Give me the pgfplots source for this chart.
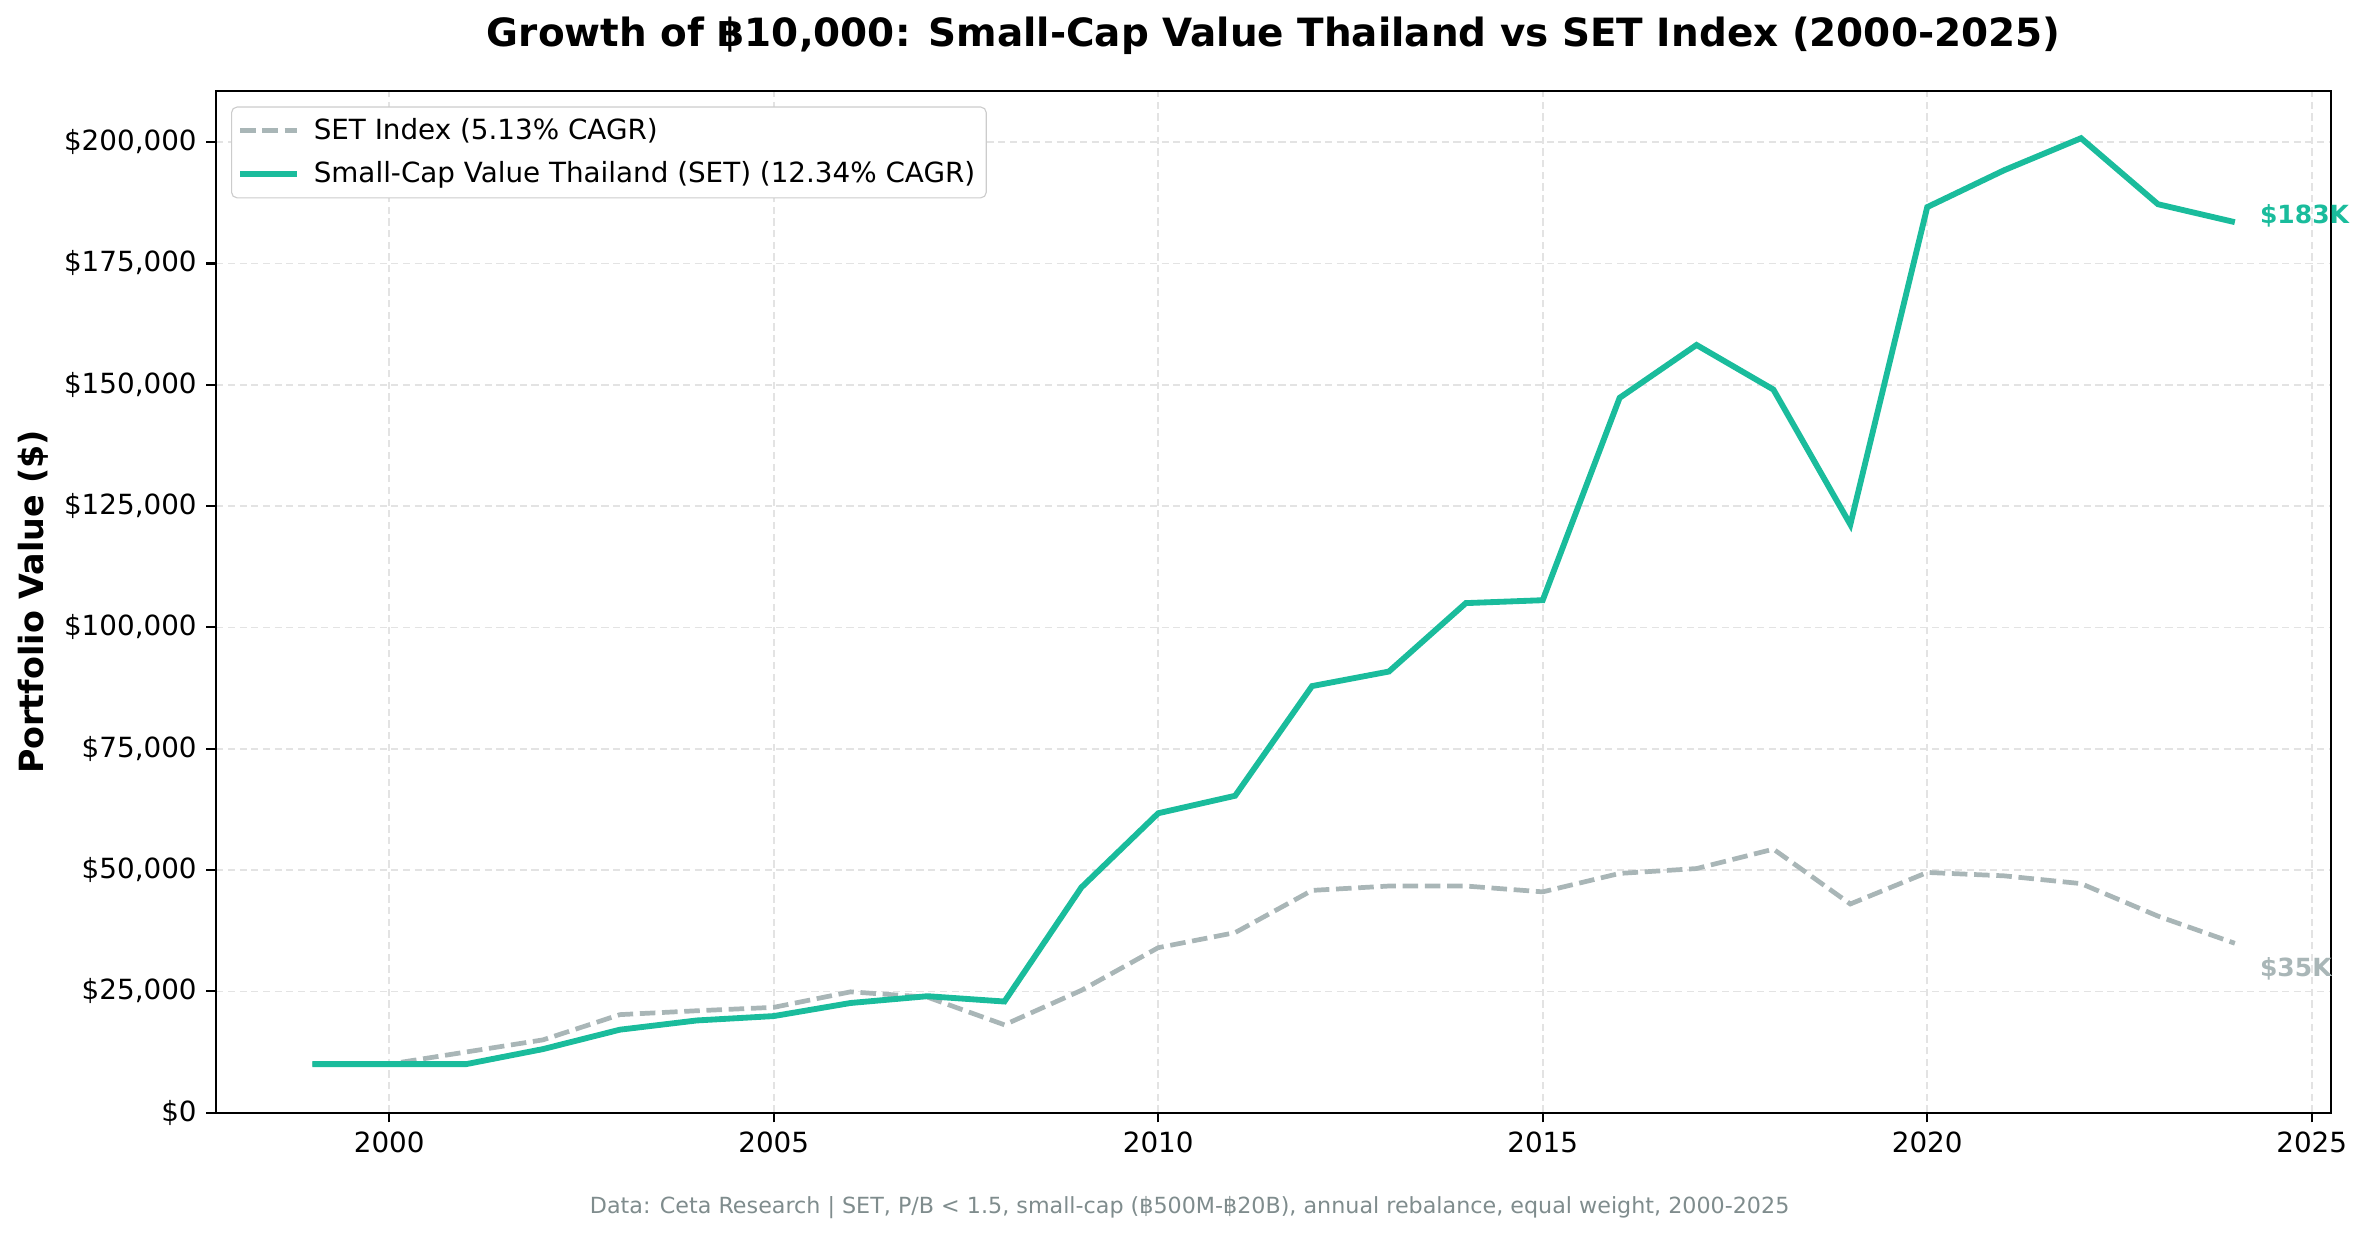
\documentclass[border=0pt]{standalone}
\usepackage{pgfplots}
\pgfplotsset{compat=1.18}
\usepackage{fontspec}
\setmainfont{DejaVu Sans}
\usetikzlibrary{calc}

\definecolor{tealc}{HTML}{1ABC9C}
\definecolor{setgray}{HTML}{A9B6B7}
\definecolor{gridc}{HTML}{E3E3E3}
\definecolor{footc}{HTML}{7F8C8D}
\definecolor{legc}{HTML}{CCCCCC}

\begin{document}
\begin{tikzpicture}
\begin{axis}[
    scale only axis,
    width=761pt, height=367.6pt,
    xmin=1997.75, xmax=2025.25,
    ymin=0, ymax=210500,
    clip=false,
    scaled y ticks=false,
    xtick={2000,2005,2010,2015,2020,2025},
    xticklabels={2000,2005,2010,2015,2020,2025},
    ytick={0,25000,50000,75000,100000,125000,150000,175000,200000},
    yticklabels={{\$0},{\$25,000},{\$50,000},{\$75,000},{\$100,000},{\$125,000},{\$150,000},{\$175,000},{\$200,000}},
    tick align=outside, tick pos=left,
    major tick length=3.5pt,
    every tick/.style={black, line width=0.8pt},
    axis line style={line width=0.8pt},
    ticklabel style={font=\fontsize{10}{12}\selectfont},
    grid=major,
    grid style={gridc, line width=0.6pt, dash pattern=on 2.6pt off 1.6pt},
    ylabel={\bfseries Portfolio Value (\$)},
    every axis y label/.style={at={(axis description cs:0,0.5)}, xshift=-65.9pt, rotate=90, anchor=center, font=\fontsize{12}{14}\selectfont},
    legend cell align=left,
    legend image code/.code={\draw[#1] (0cm,0cm) -- (0.72cm,0cm);},
    legend style={font=\fontsize{10}{12}\selectfont, draw=legc, rounded corners=2pt, fill=white, inner xsep=2pt, inner ysep=2pt, at={(0.007,0.985)}, anchor=north west, row sep=2.5pt, column sep=3pt},
]
\addplot[setgray, line width=1.7pt, dash pattern=on 5.6pt off 2.4pt] coordinates {
(1999,10000) (2000,10000) (2001,12500) (2002,15000) (2003,20200) (2004,21000)
(2005,21700) (2006,24900) (2007,23800) (2008,18100) (2009,25200) (2010,34000)
(2011,37100) (2012,45800) (2013,46700) (2014,46700) (2015,45500) (2016,49300)
(2017,50300) (2018,54300) (2019,43000) (2020,49500) (2021,48800) (2022,47200)
(2023,40500) (2024,34900)
};
\addlegendentry{SET Index (5.13\% CAGR)}
\addplot[tealc, line width=2.1pt] coordinates {
(1999,10000) (2000,10000) (2001,10000) (2002,13100) (2003,17100) (2004,19000)
(2005,19900) (2006,22600) (2007,24000) (2008,22900) (2009,46400) (2010,61700)
(2011,65300) (2012,87900) (2013,90900) (2014,105000) (2015,105600) (2016,147300)
(2017,158200) (2018,149000) (2019,121200) (2020,186600) (2021,194200) (2022,200800)
(2023,187200) (2024,183500)
};
\addlegendentry{Small-Cap Value Thailand (SET) (12.34\% CAGR)}
\node[anchor=west, text=tealc, font=\fontsize{9}{11}\selectfont\bfseries] at (axis cs:2024.2,184800) {\$183K};
\node[anchor=west, text=setgray, font=\fontsize{9}{11}\selectfont\bfseries] at (axis cs:2024.2,29600) {\$35K};
\end{axis}
\node[font=\fontsize{14}{17}\selectfont\bfseries] at ($(current axis.north)+(0,19.8pt)$) {Growth of ฿10,000: Small-Cap Value Thailand vs SET Index (2000-2025)};
\node[font=\fontsize{8}{10}\selectfont, text=footc] at ($(current axis.south west)+(350.3pt,-34.2pt)$) {Data: Ceta Research | SET, P/B < 1.5, small-cap (฿500M-฿20B), annual rebalance, equal weight, 2000-2025};
\pgfresetboundingbox
\path[use as bounding box] ($(current axis.south west)+(-77.8pt,-45.7pt)$) rectangle ($(current axis.north east)+(13.7pt,32.8pt)$);
\end{tikzpicture}
\end{document}
